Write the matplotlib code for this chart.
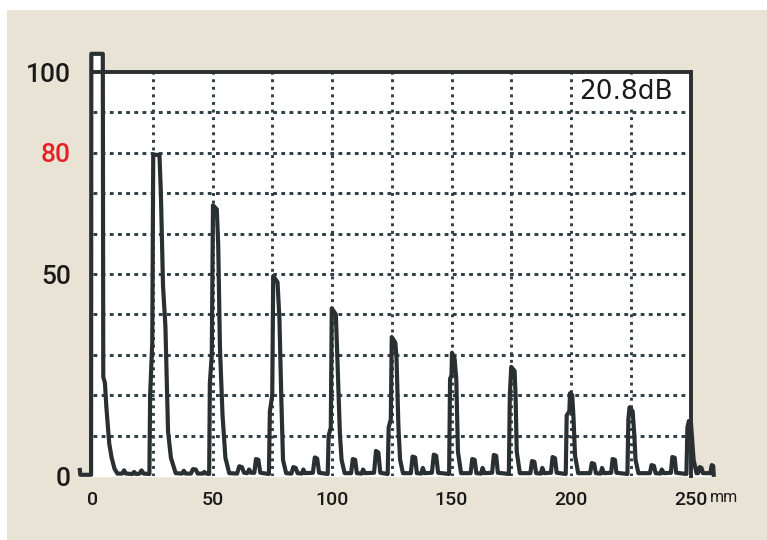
import matplotlib
matplotlib.use("Agg")
import matplotlib.pyplot as plt
from matplotlib.patches import Rectangle
import numpy as np

# A-scan echo trace: depth (mm) vs. amplitude (% screen height)
pulse_x = [-5.5, -5.3, -0.8, -0.7, 4.1, 4.3, 5.0, 5.6, 6.8, 7.8, 9.0, 10.2,
           12.2, 13.0, 13.8, 16.5, 17.2, 18.0, 19.5, 20.3, 21.2, 23.6]
pulse_y = [1.5, 0.3, 0.3, 104.5, 104.5, 24.5, 23, 17, 8, 4.5, 1.8, 0.6,
           0.6, 1.4, 0.6, 0.5, 1.0, 0.5, 0.6, 1.4, 0.6, 0.5]

echo1_x = [23.9, 24.8, 25.2, 27.8, 28.4, 29.3, 30.3, 31.4, 32.6, 34.6,
           37.2, 38.0, 38.8, 41.0, 41.8, 43.0, 43.8, 46.0, 46.6, 47.4, 48.6]
echo1_y = [20, 33, 79.5, 79.5, 70, 47, 37, 11, 4.5, 0.7,
           0.6, 1.3, 0.6, 0.6, 1.7, 1.6, 0.6, 0.6, 1.0, 0.6, 0.5]

echo2_x = [48.9, 49.7, 50.2, 51.8, 52.4, 53.1, 54.2, 55.4, 57.0,
           60.3, 61.2, 62.3, 63.2, 64.6, 65.3, 66.2, 67.5, 68.2, 69.2, 70.0, 73.6]
echo2_y = [23, 30, 67, 66, 57, 32, 15, 4.5, 0.7,
           0.6, 2.4, 2.2, 0.8, 0.7, 1.6, 0.8, 0.8, 4.2, 4.0, 0.8, 0.5]

echo3_x = [74.0, 75.0, 75.4, 77.2, 78.0, 78.8, 79.5, 80.8,
           83.0, 83.8, 84.8, 85.6, 87.4, 88.0, 88.8, 92.0, 92.8, 93.8, 94.6, 98.2]
echo3_y = [16, 20, 49.5, 48, 39, 19, 4, 0.7,
           0.6, 2.2, 2.0, 0.7, 0.6, 1.6, 0.7, 0.8, 4.6, 4.3, 0.8, 0.5]

echo4_x = [98.6, 99.5, 99.9, 101.6, 102.2, 103.3, 104.0, 105.3,
           108.0, 108.7, 109.7, 110.4, 112.4, 113.0, 113.8, 117.6, 118.4, 119.4, 120.2, 123.3]
echo4_y = [10, 12, 41.5, 40, 30, 10.5, 4, 0.7,
           0.7, 4.2, 4.0, 0.7, 0.6, 1.6, 0.7, 0.8, 6.2, 5.8, 0.8, 0.5]

echo5_x = [123.7, 124.6, 125.0, 126.5, 127.0, 127.8, 128.5, 129.7,
           133.0, 133.7, 134.8, 135.5, 137.4, 138.0, 138.8, 141.8, 142.6, 143.6, 144.4, 149.0]
echo5_y = [12, 14, 34.4, 33, 29, 12, 4, 0.7,
           0.7, 4.8, 4.6, 0.7, 0.6, 2.0, 0.7, 0.8, 5.3, 5.0, 0.8, 0.5]

echo6_x = [149.4, 150.0, 150.2, 151.3, 152.0, 152.7, 154.0,
           158.0, 158.7, 159.7, 160.4, 162.4, 163.0, 163.8, 167.0, 167.7, 168.7, 169.4, 174.0]
echo6_y = [24, 25, 30.5, 29, 24, 6, 0.7,
           0.7, 4.2, 4.0, 0.7, 0.6, 2.0, 0.7, 0.8, 5.2, 5.0, 0.8, 0.5]

echo7_x = [174.4, 175.0, 176.4, 176.8, 177.3, 178.6,
           183.0, 183.7, 184.7, 185.4, 187.4, 188.0, 188.8, 191.6, 192.3, 193.3, 194.0, 197.8]
echo7_y = [20, 27, 26, 20, 6, 0.7,
           0.7, 3.7, 3.5, 0.7, 0.6, 2.0, 0.7, 0.8, 4.7, 4.4, 0.8, 0.5]

echo8_x = [198.2, 199.3, 199.6, 200.5, 201.0, 201.7, 203.0,
           208.0, 208.7, 209.7, 210.4, 212.4, 213.0, 213.8, 216.8, 217.4, 218.4, 219.0, 223.6]
echo8_y = [15, 16, 20.5, 20, 15, 5, 0.7,
           0.7, 3.2, 3.0, 0.7, 0.6, 2.0, 0.7, 0.8, 4.2, 4.0, 0.8, 0.5]

echo9_x = [224.0, 224.5, 225.8, 226.5, 227.0, 228.2,
           233.0, 233.7, 234.7, 235.4, 237.4, 238.0, 238.8, 241.8, 242.4, 243.4, 244.0, 248.3]
echo9_y = [14, 17, 16, 10, 4, 0.7,
           0.7, 2.7, 2.5, 0.7, 0.6, 1.6, 0.7, 0.8, 4.7, 4.5, 0.8, 0.5]

echo10_x = [248.7, 249.3, 250.2, 250.8, 251.3, 252.5,
            253.2, 253.8, 254.6, 255.2, 258.3, 258.9, 259.5, 259.7]
echo10_y = [12, 13.6, 13, 8, 4, 0.7,
            0.7, 2.2, 2.0, 0.7, 0.7, 2.7, 2.5, 0.3]

x_ticks = [0, 50, 100, 150, 200, 250]
y_ticks = [0, 50, 80, 100]
gain_label = "20.8dB"

trace_x = np.array(pulse_x + echo1_x + echo2_x + echo3_x + echo4_x + echo5_x
                   + echo6_x + echo7_x + echo8_x + echo9_x + echo10_x)
trace_y = np.array(pulse_y + echo1_y + echo2_y + echo3_y + echo4_y + echo5_y
                   + echo6_y + echo7_y + echo8_y + echo9_y + echo10_y)

ink = '#2a2f32'
grid_col = '#2c3d44'
label_font = ['Roboto', 'Liberation Sans']

fig = plt.figure(figsize=(7.67, 5.40), dpi=100)
fig.patch.set_facecolor('white')
fig.patches.append(Rectangle((7/767, 0), 1, 1 - 10/540, transform=fig.transFigure,
                             facecolor='#e9e3d5', edgecolor='none', zorder=-10))

ax = fig.add_axes([93/767, 64/540, 597.5/767, 404/540])
ax.set_facecolor('white')
ax.set_xlim(0, 250)
ax.set_ylim(0, 100)

# dotted grid every 25 mm / 10 %
for gx in range(25, 250, 25):
    ax.axvline(gx, color=grid_col, lw=2.1, ls=(0, (1.0, 1.6)), zorder=1)
for gy in range(10, 100, 10):
    ax.axhline(gy, color=grid_col, lw=2.1, ls=(0, (1.3, 1.5)), zorder=1)

ax.fill_between(trace_x, 0, trace_y, color='white', zorder=0.5, clip_on=False)
ax.plot(trace_x, trace_y, color=ink, lw=3.0, zorder=3, clip_on=False,
        solid_joinstyle='round')

for s in ['left', 'bottom']:
    ax.spines[s].set_visible(False)
for s in ['top', 'right']:
    ax.spines[s].set_color(ink)
    ax.spines[s].set_linewidth(2.8)

ax.set_xticks(x_ticks)
ax.set_yticks(y_ticks)
ax.set_xticklabels([str(v) for v in x_ticks], fontsize=14, family=label_font,
                   fontweight='medium')
ax.set_yticklabels([str(v) for v in y_ticks], fontsize=19, family=label_font,
                   fontweight='medium')
ax.tick_params(axis='x', length=0, pad=11, colors='#1a1a1a')
ax.tick_params(axis='y', length=0, pad=16, colors='#1a1a1a')
for lab in ax.get_yticklabels():
    if lab.get_text() == '80':
        lab.set_color('#e8202a')

ax.text(258.2, -5.3, 'mm', fontsize=11.5, family=label_font, color='#1a1a1a',
        ha='left', va='center', clip_on=False)

ax.text(242.7, 95, gain_label, fontsize=19, family='DejaVu Sans', color='#1a1a1a',
        ha='right', va='center', zorder=4,
        bbox=dict(facecolor='white', edgecolor='none', pad=1))

plt.savefig('out.png', dpi=100)
